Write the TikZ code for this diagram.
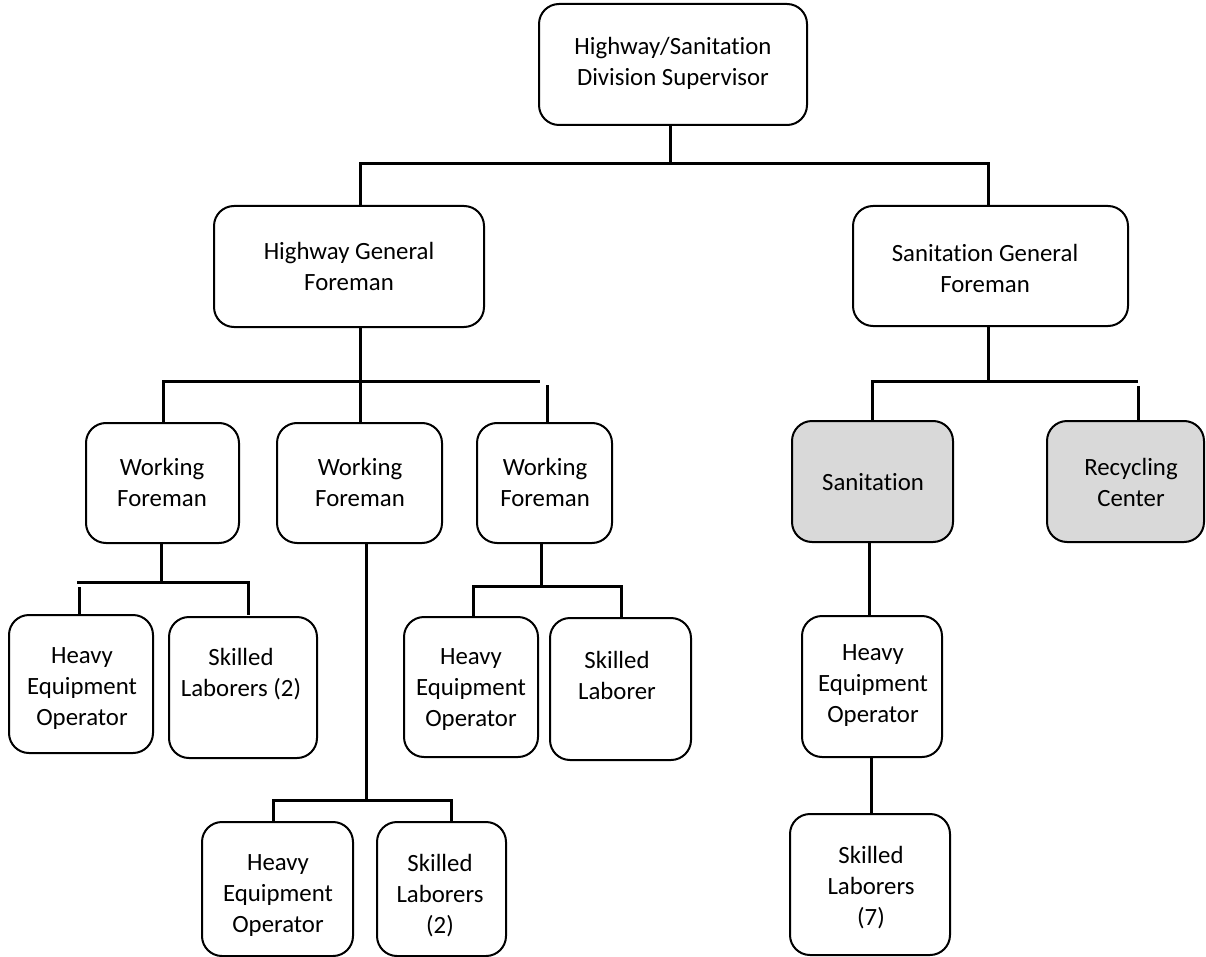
\documentclass[tikz,border=0pt]{standalone}
\usepackage{fontspec}
\setmainfont{Carlito}[Ligatures=NoCommon]
\definecolor{boxgray}{HTML}{D9D9D9}
% box from its corner coordinates: name, x1, y1, x2, y2, style (y measured downwards)
\newcommand\orgbox[6]{%
  \node[#6, minimum width={#4-#2}, minimum height={#5-#3}] (#1) at ({(#2+#4)/2},{-(#3+#5)/2}) {};}
\begin{document}
\begin{tikzpicture}[x=1pt,y=1pt,
  orgbox/.style={draw=black, line width=2pt, rounded corners=20pt, fill=white, outer sep=0pt, inner sep=0pt},
  shaded/.style={orgbox, fill=boxgray},
  lbl/.style={align=center, font=\fontsize{24.8}{31}\selectfont, inner sep=0pt, text=black},
  conn/.style={line width=3pt, draw=black}]
\useasboundingbox (0,0) rectangle (1206,-957);

% ---- boxes ----
\orgbox{top}{539}{4}{807}{125}{orgbox}
\orgbox{hgf}{214}{206}{484}{327}{orgbox}
\orgbox{sgf}{853}{206}{1128}{326}{orgbox}
\orgbox{wfa}{86}{423}{239}{543}{orgbox}
\orgbox{wfb}{277}{423}{442}{543}{orgbox}
\orgbox{wfc}{477}{423}{612}{543}{orgbox}
\orgbox{san}{792}{421}{953}{542}{shaded}
\orgbox{rec}{1047}{421}{1204}{542}{shaded}
\orgbox{heoa}{9}{615}{153}{753}{orgbox}
\orgbox{sla}{169}{617}{317}{758}{orgbox}
\orgbox{heoc}{404}{617}{538}{757}{orgbox}
\orgbox{slc}{550}{618}{691}{760}{orgbox}
\orgbox{heob}{202}{822}{353}{956}{orgbox}
\orgbox{slb}{377}{822}{506}{956}{orgbox}
\orgbox{heos}{802}{616}{942}{757}{orgbox}
\orgbox{sls}{790}{814}{950}{955}{orgbox}

% ---- labels ----
\node[lbl] (top-t)  at (673,-63)   {Highway/Sanitation\\Division Supervisor};
\node[lbl] (hgf-t)  at (349,-266)  {Highway General\\Foreman};
\node[lbl] (sgf-t)  at (985,-268)  {Sanitation General\\Foreman};
\node[lbl] (wfa-t)  at (162,-482)  {Working\\Foreman};
\node[lbl] (wfb-t)  at (360,-482)  {Working\\Foreman};
\node[lbl] (wfc-t)  at (545,-482)  {Working\\Foreman};
\node[lbl] (san-t)  at (873,-482)  {Sanitation};
\node[lbl] (rec-t)  at (1131,-482) {Recycling\\Center};
\node[lbl] (heoa-t) at (82,-689)   {Heavy\\Equipment\\Operator};
\node[lbl] (sla-t)  at (241,-674)  {Skilled\\Laborers (2)};
\node[lbl] (heoc-t) at (471,-690)  {Heavy\\Equipment\\Operator};
\node[lbl] (slc-t)  at (617,-675)  {Skilled\\Laborer};
\node[lbl] (heob-t) at (278,-896)  {Heavy\\Equipment\\Operator};
\node[lbl] (slb-t)  at (440,-896)  {Skilled\\Laborers\\(2)};
\node[lbl] (heos-t) at (873,-686)  {Heavy\\Equipment\\Operator};
\node[lbl] (sls-t)  at (871,-888)  {Skilled\\Laborers\\(7)};

% ---- junction points ----
\coordinate (j1)  at (670,-164);
\coordinate (j1l) at (360,-164);
\coordinate (j1r) at (988,-164);
\coordinate (j2l) at (163,-381);
\coordinate (j2m) at (360,-381);
\coordinate (j2e) at (540,-381);
\coordinate (j2s) at (547,-385);
\coordinate (j3m) at (988,-381);
\coordinate (j3l) at (872,-381);
\coordinate (j3e) at (1138,-381);
\coordinate (j3s) at (1138,-386);
\coordinate (ja)  at (161,-582);
\coordinate (jal) at (79,-582);
\coordinate (jar) at (248,-582);
\coordinate (jc)  at (541,-586);
\coordinate (jcl) at (473,-586);
\coordinate (jcr) at (621,-586);
\coordinate (jb)  at (366,-800);
\coordinate (jbl) at (273,-800);
\coordinate (jbr) at (451,-800);
\coordinate (js1) at (869,0);
\coordinate (js2) at (871,0);

% ---- connectors ----
\draw[conn] (top.south -| j1) -- (j1);
\draw[conn] (hgf.north -| j1l) -- (j1l) -- (j1r) -- (sgf.north -| j1r);

\draw[conn] (hgf.south -| j2m) -- (wfb.north -| j2m);
\draw[conn] (wfa.north -| j2l) -- (j2l) -- (j2e);
\draw[conn] (j2s) -- (wfc.north -| j2s);

\draw[conn] (sgf.south -| j3m) -- (j3m);
\draw[conn] (san.north -| j3l) -- (j3l) -- (j3e);
\draw[conn] (j3s) -- (rec.north -| j3s);

\draw[conn] (wfa.south -| ja) -- (ja);
\draw[conn] ([xshift=-2pt]jal) -- (jar) -- (heoa.north -| jar);
\draw[conn] ([yshift=-5pt]jal) -- (heoa.north -| jal);

\draw[conn] (wfc.south -| jc) -- (jc);
\draw[conn] (heoc.north -| jcl) -- (jcl) -- (jcr) -- (slc.north -| jcr);

\draw[conn] (wfb.south -| jb) -- (jb);
\draw[conn] (heob.north -| jbl) -- (jbl) -- (jbr) -- (slb.north -| jbr);

\draw[conn] (san.south -| js1) -- (heos.north -| js1);
\draw[conn] (heos.south -| js2) -- (sls.north -| js2);
\end{tikzpicture}
\end{document}
